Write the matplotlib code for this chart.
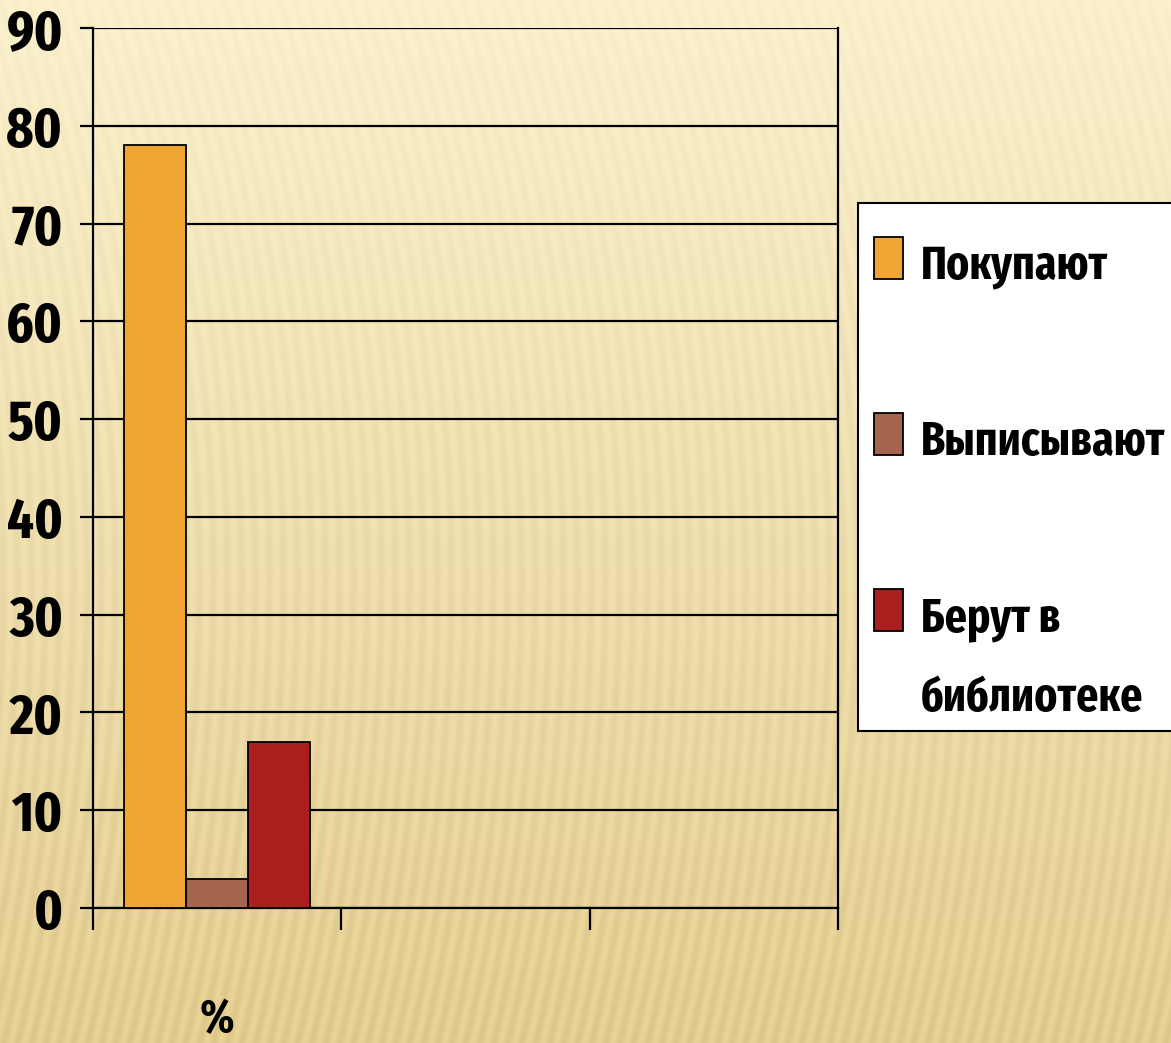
import numpy as np
import matplotlib
matplotlib.use("Agg")
import matplotlib.pyplot as plt
from matplotlib.patches import Rectangle

# data
categories = ["%", "", ""]
series_names = ["Покупают", "Выписывают", "Берут в\nбиблиотеке"]
series_values = [[78], [3], [17]]
series_colors = ["#F0A431", "#A5654E", "#AA1E1E"]
y_ticks = list(range(0, 91, 10))

plt.rcParams["font.family"] = ["Fira Sans Extra Condensed", "DejaVu Sans"]
plt.rcParams["font.weight"] = "bold"

W, H = 1171, 1043
fig = plt.figure(figsize=(W / 100, H / 100), dpi=100)


def fx(px):
    return px / W


def fy(py):
    return 1 - py / H


# striped background
yy, xx = np.mgrid[0:H, 0:W].astype(float)
t = yy / H
top = np.array([252, 242, 206]) / 255
bottom = np.array([233, 211, 150]) / 255
base = top[None, None, :] * (1 - t[..., None]) + bottom[None, None, :] * t[..., None]
phase = xx - 0.3 * yy * (1 - 0.9 * t)
stripes = 0.5 + 0.5 * np.cos(2 * np.pi * phase / 14)
amp = 0.015 + 0.035 * t
bg = np.clip(base - (amp * stripes)[..., None], 0, 1)
bg_ax = fig.add_axes([0, 0, 1, 1], zorder=-5)
bg_ax.imshow(bg, aspect="auto", interpolation="bilinear")
bg_ax.axis("off")

ax = fig.add_axes([fx(93), fy(908), fx(838 - 93), (908 - 28) / H])
ax.set_facecolor("none")

width = 0.25
x = np.arange(len(categories))
for i, (name, vals, col) in enumerate(zip(series_names, series_values, series_colors)):
    xs = x[: len(vals)] + (i - 1) * width
    ax.bar(xs, vals, width=width, color=col, edgecolor="black",
           linewidth=1.3, label=name, zorder=3)

ax.set_xlim(-0.5, len(categories) - 0.5)
ax.set_ylim(0, 90)
ax.set_yticks(y_ticks)
ax.set_yticklabels([str(v) for v in y_ticks], fontsize=41, fontweight="bold")
ax.yaxis.grid(True, color="black", linewidth=1.6, zorder=1)
ax.set_axisbelow(True)

ax.set_xticks(np.arange(len(categories) + 1) - 0.5)
ax.set_xticklabels([])
ax.set_xticks(x, minor=True)
ax.set_xticklabels(categories, minor=True, fontsize=34, fontweight="bold")
ax.tick_params(axis="x", which="major", length=16, width=1.6, direction="out")
ax.tick_params(axis="x", which="minor", length=0, pad=64)
ax.tick_params(axis="y", length=9.5, width=1.6, direction="out", pad=12)

for s in ["left", "bottom", "right"]:
    ax.spines[s].set_linewidth(1.6)
    ax.spines[s].set_color("black")
ax.spines["top"].set_visible(False)

# legend box (handle sits on the first line of each label, as in the original)
fig.patches.append(Rectangle((fx(858), fy(731)), fx(1220 - 858), (731 - 203) / H,
                             transform=fig.transFigure, facecolor="white",
                             edgecolor="black", linewidth=1.5, zorder=5))
row_step = 176
line_step = 80
for i, (name, col) in enumerate(zip(series_names, series_colors)):
    cy = 258 + i * row_step
    fig.patches.append(Rectangle((fx(874), fy(cy + 21)), fx(29), 42 / H,
                                 transform=fig.transFigure, facecolor=col,
                                 edgecolor="black", linewidth=1.3, zorder=6))
    for j, line in enumerate(name.split("\n")):
        fig.text(fx(921), fy(cy + 21 + j * line_step), line, fontsize=34,
                 fontweight="bold", va="baseline", ha="left", zorder=7)

fig.savefig("out.png", dpi=100)
